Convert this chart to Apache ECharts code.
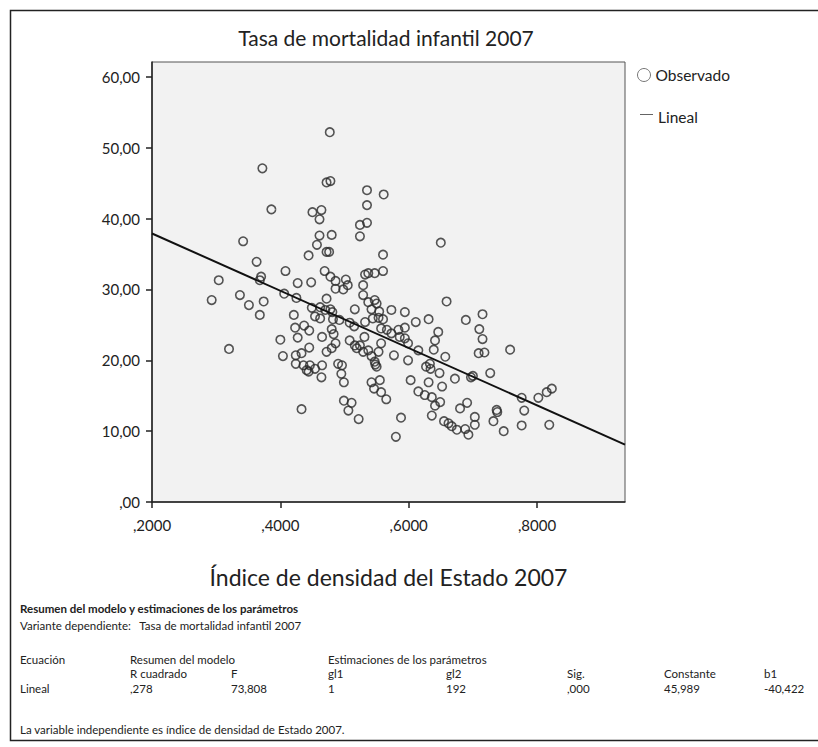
<!DOCTYPE html>
<html>
<head>
<meta charset="utf-8">
<script src="https://cdn.jsdelivr.net/npm/echarts@6/dist/echarts.min.js"></script>
<style>
  html, body { margin: 0; padding: 0; background: #fff; }
  #chart { width: 818px; height: 747px; }
</style>
</head>
<body>
<div id="chart"></div>
<script>
// Índice de densidad del Estado 2007 (x) y Tasa de mortalidad infantil 2007 (y)
const densityIndex = [
  0.372, 0.386, 0.477, 0.472, 0.478, 0.535, 0.561, 0.535, 0.450, 0.464,
  0.461, 0.524, 0.535, 0.461, 0.480, 0.524, 0.650, 0.342, 0.444, 0.363,
  0.408, 0.304, 0.370, 0.368, 0.427, 0.448, 0.337, 0.406, 0.425, 0.293,
  0.351, 0.374, 0.449, 0.368, 0.421, 0.423, 0.437, 0.400, 0.427, 0.320,
  0.404, 0.424, 0.433, 0.424, 0.436, 0.457, 0.472, 0.476, 0.560, 0.469,
  0.478, 0.486, 0.502, 0.505, 0.498, 0.486, 0.532, 0.537, 0.547, 0.560,
  0.529, 0.529, 0.537, 0.547, 0.550, 0.472, 0.516, 0.542, 0.554, 0.573,
  0.594, 0.659, 0.462, 0.470, 0.478, 0.481, 0.454, 0.462, 0.482, 0.492,
  0.508, 0.515, 0.532, 0.544, 0.553, 0.560, 0.611, 0.631, 0.445, 0.480,
  0.465, 0.483, 0.557, 0.566, 0.573, 0.584, 0.594, 0.586, 0.594, 0.599,
  0.615, 0.646, 0.641, 0.639, 0.657, 0.508, 0.516, 0.524, 0.531, 0.557,
  0.486, 0.472, 0.480, 0.445, 0.519, 0.529, 0.537, 0.542, 0.553, 0.577,
  0.599, 0.633, 0.446, 0.465, 0.490, 0.496, 0.547, 0.550, 0.454, 0.444,
  0.464, 0.495, 0.499, 0.548, 0.542, 0.555, 0.546, 0.557, 0.565, 0.603,
  0.627, 0.634, 0.648, 0.672, 0.631, 0.652, 0.615, 0.625, 0.636, 0.649,
  0.641, 0.636, 0.680, 0.499, 0.511, 0.506, 0.522, 0.433, 0.588, 0.580,
  0.655, 0.662, 0.667, 0.675, 0.697, 0.700, 0.727, 0.776, 0.802, 0.815,
  0.823, 0.691, 0.703, 0.703, 0.737, 0.738, 0.732, 0.780, 0.776, 0.748,
  0.819, 0.688, 0.693, 0.715, 0.689, 0.710, 0.715, 0.709, 0.718, 0.758,
  0.441
];
const mortalityRate = [
  47.1, 41.3, 52.2, 45.1, 45.3, 44.0, 43.4, 41.9, 40.9, 41.2,
  39.9, 39.1, 39.4, 37.6, 37.7, 37.5, 36.6, 36.8, 34.8, 33.9,
  32.6, 31.3, 31.8, 31.3, 30.9, 31.0, 29.2, 29.4, 28.8, 28.5,
  27.8, 28.3, 27.4, 26.4, 26.4, 24.6, 24.9, 22.9, 23.2, 21.6,
  20.6, 20.7, 21.0, 19.5, 19.3, 36.3, 35.3, 35.3, 34.9, 32.6,
  31.8, 31.2, 31.4, 30.6, 30.0, 30.1, 32.1, 32.3, 32.3, 32.6,
  30.6, 29.2, 28.2, 28.5, 28.0, 28.7, 27.2, 27.2, 26.9, 27.1,
  26.8, 28.3, 27.5, 27.1, 27.2, 26.8, 26.2, 25.9, 25.8, 25.7,
  25.3, 24.8, 25.4, 25.9, 26.0, 25.8, 25.4, 25.8, 24.2, 24.4,
  23.3, 23.7, 24.5, 24.3, 23.8, 24.3, 24.6, 23.3, 23.1, 22.4,
  21.4, 24.0, 22.8, 21.5, 20.5, 22.8, 22.1, 22.1, 23.3, 22.4,
  22.4, 21.2, 21.7, 21.8, 21.7, 21.2, 21.4, 20.6, 21.2, 20.7,
  20.0, 19.5, 19.3, 19.3, 19.5, 19.3, 19.8, 19.1, 18.8, 18.4,
  17.6, 18.1, 16.9, 19.4, 16.9, 17.2, 16.0, 15.5, 14.5, 17.2,
  19.1, 18.8, 18.2, 17.4, 16.9, 16.3, 15.6, 15.1, 14.8, 14.1,
  13.6, 12.2, 13.2, 14.3, 14.0, 12.9, 11.7, 13.1, 11.9, 9.2,
  11.4, 11.1, 10.7, 10.2, 17.6, 17.8, 18.2, 14.7, 14.7, 15.5,
  16.0, 14.0, 12.0, 10.9, 13.0, 12.7, 11.4, 12.9, 10.8, 10.0,
  10.9, 10.3, 9.5, 26.5, 25.7, 24.4, 23.0, 21.0, 21.1, 21.5,
  18.6
];
// recta ajustada (Lineal), extremos
const fitX = [0.2, 0.937];
const fitY = [37.9, 8.1];

const xTicks = [0.2, 0.4, 0.6, 0.8];
const yTicks = [0, 10, 20, 30, 40, 50, 60];

// tabla "Resumen del modelo y estimaciones de los parámetros"
const tableTitle = "Resumen del modelo y estimaciones de los parámetros";
const dependentLine = "Variante dependiente:   Tasa de mortalidad infantil 2007";
const groupHeaders = ["Ecuación", "Resumen del modelo", "", "Estimaciones de los parámetros", "", "", "", ""];
const columnHeaders = ["", "R cuadrado", "F", "gl1", "gl2", "Sig.", "Constante", "b1"];
const rowValues = ["Lineal", ",278", "73,808", "1", "192", ",000", "45,989", "-40,422"];
const footNote = "La variable independiente es índice de densidad de Estado 2007.";

const FONT = "Lato, 'Noto Sans', sans-serif";
const columnX = [20, 130, 231, 328, 446, 567, 664, 764];

function tableText(text, x, y, bold) {
  return {
    type: "text",
    silent: true,
    style: {
      text: text,
      x: x,
      y: y,
      fill: "#222",
      fontFamily: FONT,
      fontSize: 11.5,
      fontWeight: bold ? "bold" : "normal",
      align: "left",
      verticalAlign: "middle"
    }
  };
}

function buildGraphics() {
  const items = [
    {
      type: "rect",
      silent: true,
      shape: { x: 10.5, y: 10.5, width: 900, height: 730 },
      style: { fill: "none", stroke: "#222", lineWidth: 1.5 }
    },
    {
      type: "text",
      silent: true,
      style: {
        text: "Tasa de mortalidad infantil 2007",
        x: 386,
        y: 37,
        fill: "#222",
        fontFamily: FONT,
        fontSize: 21,
        align: "center",
        verticalAlign: "middle"
      }
    },
    tableText(tableTitle, 20, 608, true),
    tableText(dependentLine, 20, 625, false),
    tableText(footNote, 20, 729, false)
  ];
  const rows = [[groupHeaders, 659], [columnHeaders, 673], [rowValues, 688]];
  rows.forEach(([cells, y]) => {
    cells.forEach((cell, i) => {
      if (cell) {
        items.push(tableText(cell, columnX[i], y, false));
      }
    });
  });
  return items;
}

const chart = echarts.init(document.getElementById("chart"), null, { renderer: "svg" });

chart.setOption({
  animation: false,
  grid: {
    left: 152,
    top: 62,
    width: 473,
    height: 440,
    show: true,
    backgroundColor: "#f2f2f2",
    borderColor: "#555",
    borderWidth: 1
  },
  legend: [
    {
      left: 637,
      top: 67,
      padding: 0,
      itemWidth: 13,
      itemHeight: 13,
      selectedMode: false,
      textStyle: { fontFamily: FONT, fontSize: 15.5, color: "#222" },
      data: [{ name: "Observado", icon: "circle", itemStyle: { color: "#fff", borderColor: "#555", borderWidth: 1 } }]
    },
    {
      left: 640,
      top: 109,
      padding: 0,
      itemWidth: 13,
      itemHeight: 14,
      selectedMode: false,
      textStyle: { fontFamily: FONT, fontSize: 15.5, color: "#222" },
      // trazo corto en la parte superior del icono, como en el original
      data: [{ name: "Lineal", icon: "path://M0,0H20V1.4H0ZM0,9", itemStyle: { color: "#555", borderWidth: 0 } }]
    }
  ],
  xAxis: {
    type: "value",
    min: 0.2,
    max: 0.937,
    interval: 0.2,
    name: "Índice de densidad del Estado 2007",
    nameLocation: "middle",
    nameGap: 63,
    nameTextStyle: { fontFamily: FONT, fontSize: 23, color: "#222" },
    axisLine: { show: true, onZero: false, lineStyle: { color: "#222", width: 1.5 } },
    axisTick: { show: true, length: 6, customValues: xTicks, lineStyle: { color: "#222", width: 1.5 } },
    axisLabel: {
      customValues: xTicks,
      margin: 15,
      fontFamily: FONT,
      fontSize: 15,
      color: "#222",
      formatter: (v) => "," + v.toFixed(4).slice(2)
    },
    splitLine: { show: false }
  },
  yAxis: {
    type: "value",
    min: 0,
    max: 62.1,
    interval: 10,
    axisLine: { show: true, onZero: false, lineStyle: { color: "#222", width: 1.5 } },
    axisTick: { show: true, length: 6, customValues: yTicks, lineStyle: { color: "#222", width: 1.5 } },
    axisLabel: {
      customValues: yTicks,
      margin: 12,
      fontFamily: FONT,
      fontSize: 15,
      color: "#222",
      formatter: (v) => (v === 0 ? ",00" : v.toFixed(2).replace(".", ","))
    },
    splitLine: { show: false }
  },
  series: [
    {
      name: "Observado",
      type: "scatter",
      symbol: "circle",
      symbolSize: 8.5,
      silent: true,
      itemStyle: { color: "rgba(0,0,0,0)", borderColor: "#2a2a2a", borderWidth: 1.6 },
      data: densityIndex.map((x, i) => [x, mortalityRate[i]])
    },
    {
      name: "Lineal",
      type: "line",
      symbol: "none",
      silent: true,
      lineStyle: { color: "#111", width: 2 },
      itemStyle: { color: "#555" },
      data: fitX.map((x, i) => [x, fitY[i]])
    }
  ],
  graphic: buildGraphics()
});
</script>
</body>
</html>
